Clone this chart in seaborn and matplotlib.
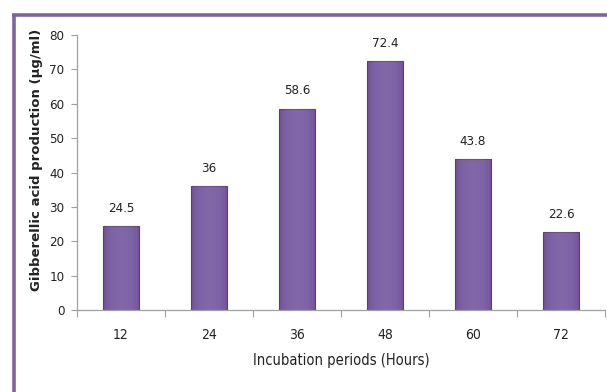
import matplotlib
matplotlib.use("Agg")
import matplotlib.pyplot as plt
from matplotlib.lines import Line2D
import numpy as np
import pandas as pd
import seaborn as sns

# Incubation time (hours) and gibberellic acid yield (µg/ml)
periods = ["12", "24", "36", "48", "60", "72"]
production = [24.5, 36, 58.6, 72.4, 43.8, 22.6]
value_labels = ["24.5", "36", "58.6", "72.4", "43.8", "22.6"]
y_ticks = [0, 10, 20, 30, 40, 50, 60, 70, 80]

df = pd.DataFrame({"period": periods, "production": production})

sns.set_theme(style="white")
plt.rcParams["font.family"] = ["DejaVu Sans"]
plt.rcParams["font.stretch"] = "condensed"

W, H = 607, 392
fig = plt.figure(figsize=(W / 100, H / 100), dpi=100)
fig.patch.set_facecolor("white")
ax = fig.add_axes([77 / W, 1 - 310 / H, 528 / W, 275 / H])

bar_color = "#6e4f9a"
sns.barplot(data=df, x="period", y="production", order=periods,
            color=bar_color, width=0.41, saturation=1, ax=ax,
            edgecolor="#553a7a", linewidth=0.8)

# soft horizontal shading on each bar
grad = np.linspace(0, 1, 256)
shade = 0.14 * np.sin(np.pi * grad) ** 0.6
for patch in ax.patches:
    x0, y0 = patch.get_x(), patch.get_y()
    w, h = patch.get_width(), patch.get_height()
    img = np.zeros((1, 256, 4))
    img[..., :3] = 1.0
    img[..., 3] = shade
    im = ax.imshow(img, extent=[x0, x0 + w, y0, y0 + h], aspect="auto",
                   zorder=patch.get_zorder() + 0.1, interpolation="bilinear")
    im.set_clip_path(patch)

for i, (v, lab) in enumerate(zip(production, value_labels)):
    ax.annotate(lab, xy=(i, v), xytext=(0, 8), textcoords="offset points",
                ha="center", va="bottom", fontsize=9.5, color="#222222")

ax.set_xlim(-0.5, len(periods) - 0.5)
ax.set_ylim(0, 80)
ax.set_yticks(y_ticks)
ax.set_yticklabels([str(t) for t in y_ticks], fontsize=9.5, color="#222222")
ax.set_xticks(range(len(periods)))
ax.set_xticklabels(periods, fontsize=10, color="#222222")
ax.tick_params(axis="x", length=0, pad=13)
ax.tick_params(axis="y", length=4, width=0.8, color="#a0a0a0", left=True, pad=5)

# category separator ticks on the x axis
ax.set_xticks([i - 0.5 for i in range(len(periods) + 1)], minor=True)
ax.tick_params(axis="x", which="minor", length=5, width=0.8, color="#a0a0a0", bottom=True)

for s in ["top", "right"]:
    ax.spines[s].set_visible(False)
for s in ["left", "bottom"]:
    ax.spines[s].set_color("#a0a0a0")
    ax.spines[s].set_linewidth(0.9)

ax.set_xlabel("Incubation periods (Hours)", fontsize=10.5, color="#222222", labelpad=8)
ax.set_ylabel("Gibberellic acid production (µg/ml)", fontsize=9.5,
              fontweight="bold", color="#222222", fontstretch="normal")
ax.yaxis.set_label_coords(-0.064, 0.545)

# purple frame around the chart area
frame_color = "#8064a2"
fig.add_artist(Line2D([13.5 / W, 13.5 / W], [0, 1 - 14.5 / H],
                      transform=fig.transFigure, color=frame_color, lw=2.6,
                      solid_capstyle="butt"))
fig.add_artist(Line2D([12.2 / W, 1], [1 - 14.5 / H, 1 - 14.5 / H],
                      transform=fig.transFigure, color=frame_color, lw=2.6,
                      solid_capstyle="butt"))

fig.savefig("out.png", dpi=100, facecolor="white")
